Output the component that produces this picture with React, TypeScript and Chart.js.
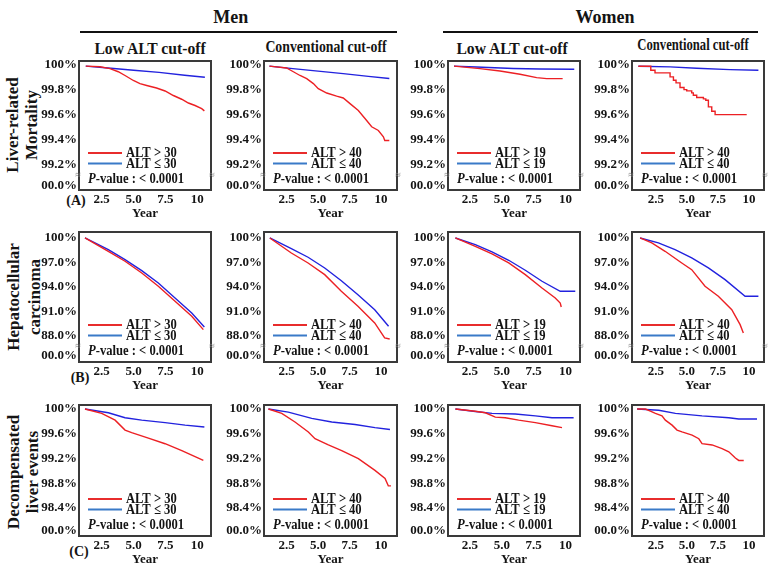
import React, { useEffect, useRef } from 'react';
import { Chart, registerables } from 'chart.js';

Chart.register(...registerables);

const SERIF = '"Liberation Serif", "Times New Roman", serif';

// ---------- text / categories ----------
const genders = ['Men', 'Women'];
const cutTitles = ['Low ALT cut-off', 'Conventional cut-off', 'Low ALT cut-off', 'Conventional cut-off'];
const cutoffs = ['30', '40', '19', '40'];
const outcomes = [
  ['Liver-related', 'Mortality'],
  ['Hepatocellular', 'carcinoma'],
  ['Decompensated', 'liver events'],
];
const panelTags = ['(A)', '(B)', '(C)'];
const pValueText = '< 0.0001';
const xTickValues = [2.5, 5, 7.5, 10];
const yTicksMortality = [99.2, 99.4, 99.6, 99.8, 100];
const yTicksHcc = [88, 91, 94, 97, 100];
const yTicksDecomp = [98.4, 98.8, 99.2, 99.6, 100];
// value at which the broken-axis "00.0%" label sits
const breakValues = [99.03, 85.56, 98.04];

// ---------- series: [year, survival %] ----------
// Liver-related mortality
const mortMenLowHigh = [[1.25, 99.985], [2.37, 99.98], [3.15, 99.965], [3.8, 99.94], [4.33, 99.91], [4.98, 99.87], [5.5, 99.845], [6.03, 99.83], [6.8, 99.81], [7.47, 99.786], [8.12, 99.75], [8.77, 99.72], [9.3, 99.69], [9.82, 99.67], [10.34, 99.645], [10.55, 99.627]];
const mortMenLowNormal = [[1.25, 99.985], [3, 99.97], [5, 99.952], [7, 99.935], [9, 99.912], [10.59, 99.896]];
const mortMenConvHigh = [[1.14, 99.985], [2.5, 99.97], [3.04, 99.94], [3.57, 99.91], [4.1, 99.885], [4.63, 99.845], [5.02, 99.805], [5.69, 99.77], [6.48, 99.745], [7.0, 99.73], [7.54, 99.685], [8.2, 99.63], [8.86, 99.55], [9.26, 99.5], [9.79, 99.47], [10.19, 99.42], [10.3, 99.39], [10.66, 99.39]];
const mortMenConvNormal = [[1.14, 99.985], [3, 99.965], [5, 99.945], [7, 99.925], [9, 99.903], [10.66, 99.886]];
const mortWomenLowHigh = [[1.25, 99.985], [3.29, 99.965], [4.86, 99.946], [6.43, 99.92], [7.73, 99.893], [8.52, 99.885], [9.77, 99.885]];
const mortWomenLowNormal = [[1.25, 99.985], [3, 99.978], [5.9, 99.966], [8, 99.962], [10.68, 99.96]];
const mortWomenConvHigh = [[1.1, 99.984], [1.91, 99.984], [2.1, 99.952], [2.44, 99.931], [3.33, 99.931], [3.65, 99.899], [3.92, 99.872], [4.13, 99.851], [4.45, 99.814], [4.77, 99.797], [4.99, 99.787], [5.39, 99.771], [5.52, 99.752], [5.79, 99.734], [6.33, 99.723], [6.52, 99.712], [6.73, 99.659], [7.0, 99.624], [7.27, 99.597], [9.81, 99.597]];
const mortWomenConvNormal = [[1.1, 99.984], [3.65, 99.979], [5.79, 99.968], [8.47, 99.957], [10.75, 99.952]];
// Hepatocellular carcinoma
const hccMenLowHigh = [[1.19, 100], [3.02, 98.37], [4.33, 97.15], [5.64, 95.72], [6.94, 94.09], [8.25, 92.25], [9.56, 90.42], [10.47, 88.78]];
const hccMenLowNormal = [[1.19, 100], [3.02, 98.57], [4.33, 97.35], [5.64, 96.0], [6.94, 94.49], [8.25, 92.66], [9.56, 90.82], [10.55, 89.11]];
const hccMenConvHigh = [[1.17, 100], [2.88, 98.16], [4.21, 96.94], [5.53, 95.51], [6.85, 93.48], [8.17, 91.64], [9.5, 89.6], [10.29, 87.76], [10.69, 87.64]];
const hccMenConvNormal = [[1.17, 100], [2.88, 98.69], [4.21, 97.64], [5.53, 96.33], [6.85, 94.77], [8.17, 93.06], [9.5, 91.22], [10.6, 89.19]];
const hccWomenLowHigh = [[1.36, 100], [2.92, 98.98], [4.23, 98.04], [5.54, 96.94], [6.84, 95.51], [8.15, 93.88], [9.19, 92.66], [9.58, 92.04], [9.66, 91.55]];
const hccWomenLowNormal = [[1.36, 100], [2.92, 99.18], [4.23, 98.29], [5.54, 97.27], [6.84, 96.05], [8.15, 94.7], [9.58, 93.48], [10.76, 93.48]];
const hccWomenConvHigh = [[1.24, 100], [2.18, 99.39], [3.25, 98.37], [4.59, 96.94], [5.39, 96.12], [6.46, 94.09], [7.53, 92.86], [8.61, 91.22], [9.28, 89.39], [9.54, 88.37]];
const hccWomenConvNormal = [[1.24, 100], [2.71, 99.39], [4.05, 98.57], [5.39, 97.55], [6.73, 96.33], [8.07, 94.9], [9.68, 92.86], [10.75, 92.86]];
// Decompensated liver events
const decMenLowHigh = [[1.19, 100], [2.5, 99.93], [3.55, 99.82], [4.33, 99.66], [4.85, 99.62], [6.16, 99.53], [7.47, 99.44], [8.78, 99.33], [9.82, 99.23], [10.47, 99.17]];
const decMenLowNormal = [[1.19, 100], [3.02, 99.94], [4.33, 99.86], [5.64, 99.82], [7.47, 99.78], [9.04, 99.74], [10.55, 99.71]];
const decMenConvHigh = [[1.06, 100], [2.12, 99.93], [3.17, 99.79], [4.23, 99.63], [4.76, 99.52], [5.82, 99.42], [6.88, 99.33], [8.2, 99.2], [9.52, 99.01], [10.32, 98.88], [10.58, 98.76], [10.79, 98.76]];
const decMenConvNormal = [[1.06, 100], [2.64, 99.95], [4.5, 99.85], [6.09, 99.79], [7.94, 99.75], [9.52, 99.7], [10.71, 99.67]];
const decWomenLowHigh = [[1.36, 100], [2.92, 99.965], [3.71, 99.94], [4.49, 99.87], [5.27, 99.86], [6.32, 99.82], [7.63, 99.78], [8.93, 99.73], [9.72, 99.7]];
const decWomenLowNormal = [[1.36, 100], [2.92, 99.96], [4.23, 99.93], [6.06, 99.92], [7.63, 99.89], [8.93, 99.86], [10.63, 99.86]];
const decWomenConvHigh = [[1.0, 100], [1.67, 100], [2.07, 99.965], [2.47, 99.93], [3.0, 99.89], [3.27, 99.82], [3.81, 99.74], [4.21, 99.66], [4.61, 99.63], [5.42, 99.58], [5.96, 99.52], [6.22, 99.44], [7.03, 99.42], [7.83, 99.36], [8.37, 99.31], [8.9, 99.21], [9.17, 99.17], [9.57, 99.17]];
const decWomenConvNormal = [[1.0, 100], [2.74, 99.98], [4.08, 99.93], [6.22, 99.89], [8.37, 99.86], [9.17, 99.84], [10.64, 99.84]];

const seriesGrid = [
  [[mortMenLowHigh, mortMenLowNormal], [mortMenConvHigh, mortMenConvNormal], [mortWomenLowHigh, mortWomenLowNormal], [mortWomenConvHigh, mortWomenConvNormal]],
  [[hccMenLowHigh, hccMenLowNormal], [hccMenConvHigh, hccMenConvNormal], [hccWomenLowHigh, hccWomenLowNormal], [hccWomenConvHigh, hccWomenConvNormal]],
  [[decMenLowHigh, decMenLowNormal], [decMenConvHigh, decMenConvNormal], [decWomenLowHigh, decWomenLowNormal], [decWomenConvHigh, decWomenConvNormal]],
];
const rowTicks = [yTicksMortality, yTicksHcc, yTicksDecomp];

// ---------- geometry & style ----------
const COL_BOX = [[79, 211], [264, 397], [448, 580], [632, 764]];
const ROW_BOX = [[61, 190], [232, 362], [405, 536]];
const COL_XRANGE = [[0.72, 11.07], [0.71, 11.27], [0.78, 11.13], [0.59, 11.2]];
const ROW_YRANGE = [[98.994, 100.026], [84.82, 100.73], [97.95, 100.065]];
const ROW_SHOW_BREAK = [true, true, false];
const PAD_L = 62, PAD_T = 12, PAD_R = 6, X_AXIS_H = 31;
const RED = 'rgb(236,32,36)';
const BLUE = 'rgb(34,34,222)';
const LEG_RED = 'rgb(232,44,44)';
const LEG_BLUE = 'rgb(58,122,200)';
const INK = '#141414';

const near = (a: number, b: number) => Math.abs(a - b) < 1e-6;

function drawScaledText(ctx: CanvasRenderingContext2D, parts: { t: string; font: string }[], x: number, y: number, sx: number) {
  ctx.save();
  ctx.translate(x, y);
  ctx.scale(sx, 1);
  let cx = 0;
  for (const p of parts) {
    ctx.font = p.font;
    ctx.fillText(p.t, cx, 0);
    cx += ctx.measureText(p.t).width;
  }
  ctx.restore();
}

const kmDecor = {
  id: 'kmDecor',
  afterDraw(chart: any, _args: any, opts: any) {
    const { ctx, chartArea: a } = chart;
    ctx.save();
    // frame
    ctx.strokeStyle = '#3a3a3a';
    ctx.lineWidth = 2;
    ctx.strokeRect(a.left, a.top, a.right - a.left, a.bottom - a.top);
    // legend
    const rows = [
      { y: a.bottom - 37, color: LEG_RED, text: `ALT > ${opts.cut}` },
      { y: a.bottom - 26.5, color: LEG_BLUE, text: `ALT \u2264 ${opts.cut}` },
    ];
    ctx.textBaseline = 'middle';
    ctx.textAlign = 'left';
    ctx.fillStyle = INK;
    for (const r of rows) {
      ctx.strokeStyle = r.color;
      ctx.lineWidth = 2;
      ctx.beginPath();
      ctx.moveTo(a.left + 9, r.y);
      ctx.lineTo(a.left + 43, r.y);
      ctx.stroke();
      drawScaledText(ctx, [{ t: r.text, font: `bold 15px ${SERIF}` }], a.left + 47, r.y + 0.5, 0.84);
    }
    drawScaledText(
      ctx,
      [
        { t: 'P', font: `italic bold 15px ${SERIF}` },
        { t: `-value : ${opts.p}`, font: `bold 15px ${SERIF}` },
      ],
      a.left + 9,
      a.bottom - 11,
      0.84
    );
    // axis-break marks
    if (opts.breakMid != null) {
      const y = chart.scales.y.getPixelForValue(opts.breakMid);
      ctx.font = `10px ${SERIF}`;
      ctx.fillStyle = '#808080';
      ctx.textAlign = 'center';
      ctx.fillText('\u2248', a.left - 1, y);
      ctx.fillText('\u2248', a.right + 1, y);
    }
    ctx.restore();
  },
};

function Panel({ r, c }: { r: number; c: number }) {
  const ref = useRef<HTMLCanvasElement>(null);
  const [bl, br] = COL_BOX[c];
  const [bt, bb] = ROW_BOX[r];
  const width = br - bl + PAD_L + PAD_R;
  const height = bb - bt + PAD_T + X_AXIS_H;

  useEffect(() => {
    const [high, normal] = seriesGrid[r][c];
    const brk = breakValues[r];
    const ticks = rowTicks[r];
    const stepped = r === 0 && c === 3;
    const tickFont = { family: SERIF, size: 13, weight: 'bold' as const };
    const chart = new Chart(ref.current!, {
      type: 'line',
      data: {
        datasets: [
          { data: high.map(([x, y]) => ({ x, y })), borderColor: RED, borderWidth: 1.4, pointRadius: 0, stepped, tension: 0, fill: false },
          { data: normal.map(([x, y]) => ({ x, y })), borderColor: BLUE, borderWidth: 1.4, pointRadius: 0, tension: 0, fill: false },
        ],
      },
      options: {
        animation: false,
        responsive: false,
        events: [],
        layout: { padding: { top: PAD_T, right: PAD_R, left: 0, bottom: 0 } },
        plugins: {
          legend: { display: false },
          tooltip: { enabled: false },
          kmDecor: {
            cut: cutoffs[c],
            p: pValueText,
            breakMid: ROW_SHOW_BREAK[r] ? (brk + ticks[0]) / 2 : null,
          },
        } as any,
        scales: {
          x: {
            type: 'linear',
            min: COL_XRANGE[c][0],
            max: COL_XRANGE[c][1],
            afterBuildTicks: (s: any) => { s.ticks = xTickValues.map((v) => ({ value: v })); },
            afterFit: (s: any) => { s.height = X_AXIS_H; },
            grid: { display: false, drawTicks: false },
            border: { display: false },
            ticks: {
              autoSkip: false,
              maxRotation: 0,
              padding: 2,
              color: INK,
              font: tickFont,
              callback: (v: any) => (near(v, 10) ? '10' : Number(v).toFixed(1)),
            },
            title: { display: true, text: 'Year', color: INK, font: tickFont, padding: 0 },
          },
          y: {
            type: 'linear',
            min: ROW_YRANGE[r][0],
            max: ROW_YRANGE[r][1],
            afterBuildTicks: (s: any) => { s.ticks = [brk, ...ticks].map((v) => ({ value: v })); },
            afterFit: (s: any) => { s.width = PAD_L; },
            grid: { display: false, drawTicks: false },
            border: { display: false },
            ticks: {
              autoSkip: false,
              padding: 2,
              color: INK,
              font: tickFont,
              callback: (v: any) => (near(v, brk) ? '00.0%' : near(v, 100) ? '100%' : Number(v).toFixed(1) + '%'),
            },
          },
        },
      },
      plugins: [kmDecor],
    } as any);
    return () => chart.destroy();
  }, [r, c]);

  return (
    <canvas
      ref={ref}
      width={width}
      height={height}
      style={{ position: 'absolute', left: bl - PAD_L, top: bt - PAD_T, width, height }}
    />
  );
}

function Txt({ x, y, size, text, sx = 1, bold = true }: { x: number; y: number; size: number; text: string; sx?: number; bold?: boolean }) {
  return (
    <div
      style={{
        position: 'absolute',
        left: x,
        top: y,
        transform: `translate(-50%, -50%) scaleX(${sx})`,
        fontFamily: SERIF,
        fontWeight: bold ? 700 : 400,
        fontSize: size,
        lineHeight: 1,
        whiteSpace: 'nowrap',
        color: INK,
      }}
    >
      {text}
    </div>
  );
}

const GENDER_POS = [[230.7, 16.7], [605, 16.7]];
const GENDER_RULE = [[80, 397], [443, 758]];
const TITLE_POS = [[149.5, 47.7, 17, 0.92], [325.5, 46.7, 16, 0.86], [511.5, 47.7, 17, 0.92], [692.5, 44.8, 16, 0.79]];
const ROWLABEL_POS = [[21.5, 125, 19], [23.5, 297, 21], [22.5, 472, 19]];
const TAG_POS = [[76, 200.5], [80, 377.5], [79, 551.5]];

export default function App() {
  return (
    <div style={{ position: 'absolute', left: 0, top: 0, width: 773, height: 574, background: '#fff', overflow: 'hidden' }}>
      {genders.map((g, i) => (
        <React.Fragment key={g}>
          <Txt x={GENDER_POS[i][0]} y={GENDER_POS[i][1]} size={18} text={g} />
          <div style={{ position: 'absolute', left: GENDER_RULE[i][0], top: 30.5, width: GENDER_RULE[i][1] - GENDER_RULE[i][0], height: 2, background: '#111' }} />
        </React.Fragment>
      ))}
      {cutTitles.map((t, i) => (
        <Txt key={i} x={TITLE_POS[i][0]} y={TITLE_POS[i][1]} size={TITLE_POS[i][2]} sx={TITLE_POS[i][3]} text={t} />
      ))}
      {outcomes.map((lines, i) => (
        <div
          key={i}
          style={{
            position: 'absolute',
            left: ROWLABEL_POS[i][0],
            top: ROWLABEL_POS[i][1],
            transform: 'translate(-50%, -50%) rotate(-90deg)',
            fontFamily: SERIF,
            fontWeight: 700,
            fontSize: 17,
            lineHeight: `${ROWLABEL_POS[i][2]}px`,
            textAlign: 'center',
            whiteSpace: 'nowrap',
            color: INK,
          }}
        >
          {lines[0]}
          <br />
          {lines[1]}
        </div>
      ))}
      {panelTags.map((t, i) => (
        <Txt key={t} x={TAG_POS[i][0]} y={TAG_POS[i][1]} size={14} text={t} />
      ))}
      {[0, 1, 2].map((r) => [0, 1, 2, 3].map((c) => <Panel key={`${r}-${c}`} r={r} c={c} />))}
    </div>
  );
}
